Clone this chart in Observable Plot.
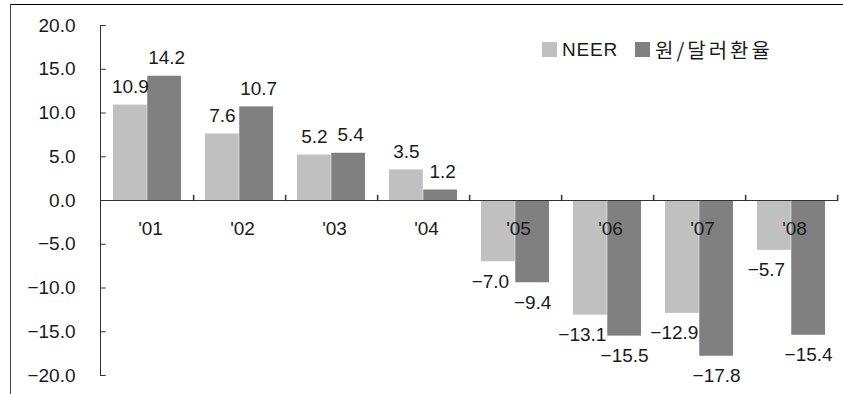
<!DOCTYPE html>
<html>
<head>
<meta charset="utf-8">
<script src="https://cdn.jsdelivr.net/npm/d3@7"></script>
<script src="https://cdn.jsdelivr.net/npm/@observablehq/plot@0.6"></script>
<style>
  html, body { margin: 0; padding: 0; background: #fff; }
  #wrap { position: relative; width: 843px; height: 394px; overflow: hidden; }
  #border { position: absolute; left: 10px; top: 4px; right: -5px; bottom: -10px;
            border-top: 1.5px solid #000; border-left: 1px solid #444; }
  #legend { position: absolute; left: 542px; top: 35px; display: flex; align-items: center;
            font-family: "Liberation Sans", Arial, "Noto Sans CJK KR", sans-serif; font-size: 19px; color: #1a1a1a; }
  .sw { width: 15px; height: 15px; display: inline-block; margin-right: 5px; }
  .item { display: flex; align-items: center; margin-right: 17px; letter-spacing: 0.8px; }
  .ko { font-family: "Noto Sans CJK KR", sans-serif; font-size: 20px; letter-spacing: 3px; }
</style>
</head>
<body>
<div id="wrap"><div id="border"></div><div id="chart"></div><div id="legend"></div></div>
<script>
const years = ["'01", "'02", "'03", "'04", "'05", "'06", "'07", "'08"];
const neer = [10.9, 7.6, 5.2, 3.5, -7.0, -13.1, -12.9, -5.7];
const krwUsd = [14.2, 10.7, 5.4, 1.2, -9.4, -15.5, -17.8, -15.4];
const yTicks = [-20, -15, -10, -5, 0, 5, 10, 15, 20];
const seriesNames = ["NEER", "원/달러환율"];
const seriesColors = ["#c0c0c0", "#808080"];

const rows = years.map((year, i) => ({year, neer: neer[i], krw: krwUsd[i]}));
const fmt = d => (d < 0 ? "\u2212" : "") + Math.abs(d).toFixed(1);

const W = 843, H = 394, mL = 100, mR = 5, mT = 25, mB = 19;
const bw = (W - mL - mR) / years.length;
const barW = 34, outer = 12;
const off = outer + barW / 2 - bw / 2; // offset of bar center from band center (negative)
const txt = "#1a1a1a";

const tickShape = {draw(ctx, l) { ctx.moveTo(0, 0); ctx.lineTo(0, -l); }};

const chart = Plot.plot({
  width: W, height: H,
  marginLeft: mL, marginRight: mR, marginTop: mT, marginBottom: mB,
  x: {type: "band", domain: years, padding: 0, axis: null},
  y: {domain: [-20, 20], axis: null},
  style: {fontFamily: "'Liberation Sans', Arial, sans-serif", fontSize: "19px", color: txt, background: "transparent", overflow: "visible"},
  marks: [
    Plot.barY(rows, {x: "year", y: "neer", fill: seriesColors[0], insetLeft: outer, insetRight: bw - outer - barW}),
    Plot.barY(rows, {x: "year", y: "krw", fill: seriesColors[1], insetLeft: bw - outer - barW, insetRight: outer}),
    Plot.ruleY([0], {stroke: "#333"}),
    Plot.frame({anchor: "left", stroke: "#333"}),
    Plot.tickY(yTicks, {y: d => d, x: () => years[0], insetRight: bw - 5, stroke: "#333"}),
    Plot.axisY({ticks: yTicks, tickSize: 0, tickPadding: 25, tickFormat: fmt, fontSize: 19, fill: txt, style: "letter-spacing:0.6px"}),
    Plot.vector(years, {x: d => d, y: () => 0, length: 5, rotate: 0, anchor: "start", shape: tickShape, stroke: "#333", dx: bw / 2}),
    Plot.text(years, {x: d => d, y: () => 0, dy: 28, dx: 3, text: d => d, fontSize: 19, fill: txt}),
    // value labels NEER
    Plot.text(rows.filter(d => d.neer >= 0), {x: "year", y: "neer", text: d => fmt(d.neer), dx: off, dy: -18, fontSize: 19, fill: txt}),
    Plot.text(rows.filter(d => d.neer < 0), {x: "year", y: "neer", text: d => fmt(d.neer), dx: off - 8, dy: 20, fontSize: 19, fill: txt}),
    // value labels KRW/USD
    Plot.text(rows.filter(d => d.krw >= 0), {x: "year", y: "krw", text: d => fmt(d.krw), dx: -off + 2, dy: -18, fontSize: 19, fill: txt}),
    Plot.text(rows.filter(d => d.krw < 0), {x: "year", y: "krw", text: d => fmt(d.krw), dx: -off, dy: 20, fontSize: 19, fill: txt})
  ]
});
document.getElementById("chart").appendChild(chart);

const legend = document.getElementById("legend");
seriesNames.forEach((name, i) => {
  const item = document.createElement("span");
  item.className = "item";
  const sw = document.createElement("span");
  sw.className = "sw";
  sw.style.background = seriesColors[i];
  const label = document.createElement("span");
  label.textContent = name;
  if (i === 1) label.className = "ko";
  item.appendChild(sw);
  item.appendChild(label);
  legend.appendChild(item);
});
</script>
</body>
</html>
